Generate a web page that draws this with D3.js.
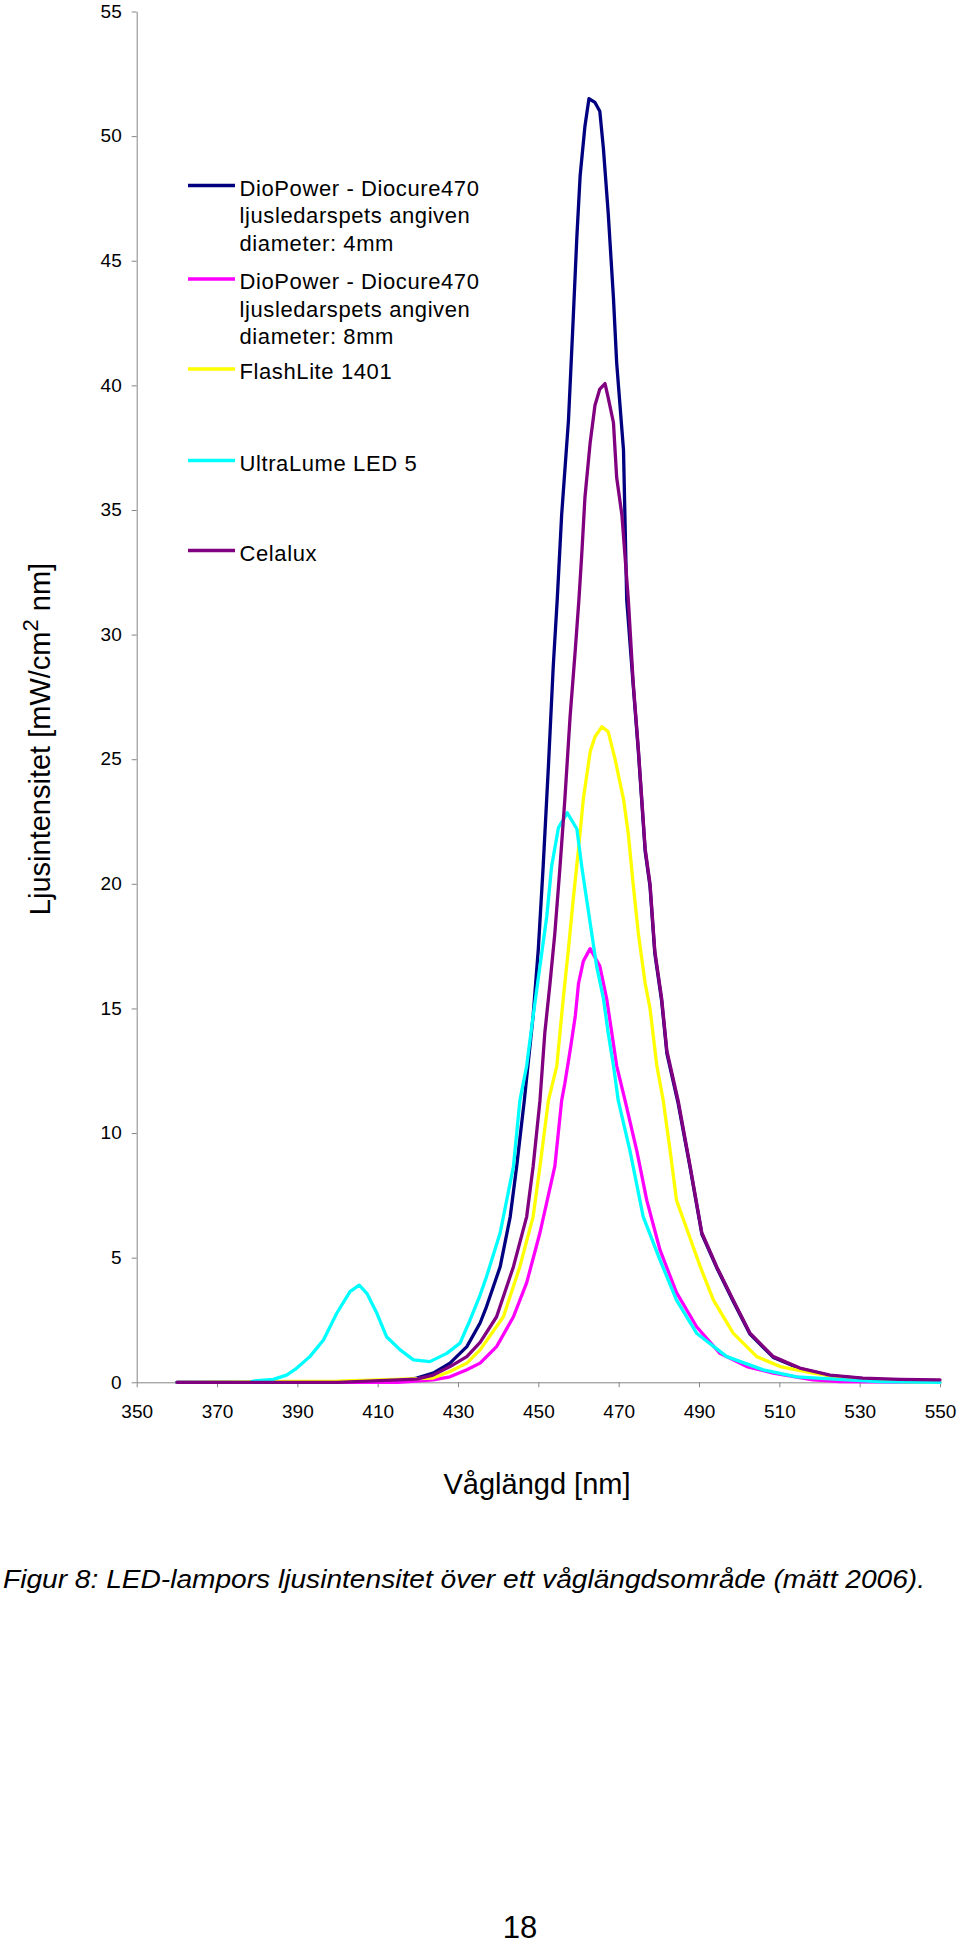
<!DOCTYPE html>
<html>
<head>
<meta charset="utf-8">
<script src="https://cdn.jsdelivr.net/npm/d3@7"></script>
<style>
  html, body { margin: 0; padding: 0; background: #fff; }
  svg { display: block; }
  text { font-family: "Liberation Sans", Arial, sans-serif; fill: #000; }
</style>
</head>
<body>
<svg id="chart" width="960" height="1947"></svg>
<script>
// ---------- data ----------
const wavelengthTicks = [350, 370, 390, 410, 430, 450, 470, 490, 510, 530, 550];
const intensityTicks = [0, 5, 10, 15, 20, 25, 30, 35, 40, 45, 50, 55];

const seriesNames = [
  ["DioPower - Diocure470", "ljusledarspets angiven", "diameter: 4mm"],
  ["DioPower - Diocure470", "ljusledarspets angiven", "diameter: 8mm"],
  ["FlashLite 1401"],
  ["UltraLume LED 5"],
  ["Celalux"]
];
const seriesColors = ["#000080", "#FF00FF", "#FFFF00", "#00FFFF", "#800080"];

// [wavelength nm, intensity mW/cm2 nm]
const dioPower4mm = [[360,0],[400,0],[415.6,0.05],[419.7,0.17],[423.8,0.37],[428,0.77],[432.2,1.43],[435.5,2.38],[437.1,3.04],[440.5,4.64],[443,6.65],[444.6,8.66],[446.5,11.3],[448.7,14.7],[450,17.4],[451.2,20.7],[452.5,24.7],[453.7,28.7],[454.7,31.4],[455.8,34.8],[457.5,38.6],[458.6,42.4],[459.6,46],[460.4,48.4],[461.6,50.4],[462.6,51.5],[464.1,51.35],[465.3,51],[466.2,49.5],[467.4,46.9],[468.7,43.5],[469.5,40.9],[471.2,37.4],[472,31.4],[473.6,28],[474.9,25.3],[476.6,21.3],[477.8,19.9],[479,17.2],[480.7,15.3],[482,13.2],[484.8,11.2],[487.8,8.6],[490.7,5.95],[494.4,4.6],[498.5,3.25],[502.7,1.93],[508.5,1.0],[515.1,0.55],[522.6,0.27],[530.8,0.15],[536,0.1]];
const dioPower8mm = [[360,0],[415,0],[423.8,0.1],[428,0.22],[432.2,0.5],[435.5,0.77],[439.6,1.43],[443.8,2.63],[447.1,4.0],[450.4,6.0],[454.1,8.66],[455.8,11.3],[456.6,12.0],[457.9,13.3],[459.2,14.7],[460,16],[461.2,16.9],[462.9,17.4],[465.3,16.7],[467,15.4],[468.3,14],[469.5,12.7],[471.6,11.3],[474.5,9.3],[477,7.3],[480.3,5.3],[484.4,3.6],[489.4,2.23],[495.2,1.16],[501.9,0.63],[508.5,0.37],[518.4,0.1],[525,0.03],[550,0]];
const flashLite1401 = [[360,0],[400,0.05],[423.8,0.17],[428,0.43],[432.2,0.77],[435.5,1.3],[441.3,2.63],[445.4,4.64],[448.7,6.65],[450.4,8.66],[452.5,11.3],[454.6,12.7],[456.2,15.4],[457.5,17.4],[458.7,19.4],[460,21.4],[461.2,23.4],[462.9,25.3],[464.1,25.9],[465.8,26.3],[467.4,26.1],[469.1,25],[471.2,23.4],[472.4,22],[473.6,20],[474.9,18],[476.6,16],[477.8,15],[479.5,12.7],[481.1,11.3],[482.8,9.3],[484.4,7.3],[487.3,6],[490.3,4.64],[493.6,3.3],[498.5,1.97],[504.4,1.03],[510.2,0.63],[518.4,0.37],[526.8,0.17],[535,0.05],[550,0]];
const ultraLumeLed5 = [[360,0],[378.2,0],[379,0.05],[384,0.12],[387.3,0.29],[389.8,0.56],[393.1,1.03],[396.5,1.7],[399.8,2.77],[403.1,3.64],[405.4,3.9],[407.3,3.57],[409.8,2.77],[412.2,1.83],[415.6,1.3],[418.9,0.9],[423,0.83],[427.2,1.16],[430.5,1.57],[433,2.5],[435.5,3.5],[437.1,4.24],[440.5,6.0],[443.8,8.66],[445.4,11.3],[447.1,12.7],[448.7,14.7],[450.4,16.7],[452.1,18.7],[453.3,20.7],[455,22.25],[457.2,22.85],[459.6,22.2],[460.8,20.7],[462,19.4],[463.3,18],[464.5,16.7],[466.2,15.4],[467.4,14],[468.7,12.7],[469.9,11.3],[472.8,9.3],[476.1,6.65],[480.3,4.9],[484.4,3.3],[489.4,1.97],[496.9,1.03],[506,0.5],[514.3,0.22],[526.8,0.1],[535,0.03],[550,0]];
const celalux = [[360,0],[400,0],[419.7,0.13],[423.8,0.29],[428,0.63],[432.2,1.03],[435.5,1.6],[439.6,2.63],[443.8,4.64],[447.1,6.65],[448.7,8.66],[450.4,11.3],[451.6,14.0],[452.9,16],[454.1,18],[455.4,20.7],[456.6,23.4],[457.9,26.7],[459.2,29.4],[460.1,31.4],[460.8,33.2],[461.6,35.5],[462.9,37.7],[464.1,39.2],[465.3,39.85],[466.6,40.07],[467.4,39.5],[468.7,38.5],[469.5,36.3],[470.8,34.8],[472.4,31.4],[473.6,28.1],[474.9,25.4],[476.6,21.4],[477.8,20],[479,17.3],[480.7,15.4],[482,13.3],[484.8,11.3],[487.8,8.66],[490.7,6.0],[494.4,4.64],[498.5,3.3],[502.7,1.97],[508.5,1.03],[515.1,0.57],[522.6,0.29],[530.8,0.17],[540,0.12],[550,0.1]];

const seriesData = [dioPower4mm, dioPower8mm, flashLite1401, ultraLumeLed5, celalux];

// ---------- layout ----------
const svg = d3.select("#chart");
svg.append("rect").attr("width", 960).attr("height", 1947).attr("fill", "#fff");

const x = d3.scaleLinear().domain([350, 550]).range([136.7, 940]);
const y = d3.scaleLinear().domain([0, 55]).range([1382.3, 11.5]);
const axisColor = "#868686";

// y axis
const yAxis = svg.append("g").attr("transform", "translate(136.7,0)")
  .call(d3.axisLeft(y).tickValues(intensityTicks).tickSize(5).tickSizeOuter(0).tickPadding(10));
yAxis.select(".domain").attr("stroke", axisColor);
yAxis.selectAll(".tick line").attr("stroke", axisColor);
yAxis.selectAll(".tick text").attr("font-size", 19).attr("font-family", "Liberation Sans, Arial, sans-serif").attr("fill", "#000").attr("dy", "0.3em");

// x axis
const xAxis = svg.append("g").attr("transform", "translate(0,1382.3)")
  .call(d3.axisBottom(x).tickValues(wavelengthTicks).tickSize(5).tickSizeOuter(0).tickFormat(d3.format("d")));
xAxis.select(".domain").attr("stroke", axisColor);
xAxis.selectAll(".tick line").attr("stroke", axisColor);
xAxis.selectAll(".tick text").attr("font-size", 19).attr("font-family", "Liberation Sans, Arial, sans-serif").attr("fill", "#000")
  .attr("y", 36).attr("dy", 0);

// lines
const line = d3.line().x(d => x(d[0])).y(d => y(d[1])).curve(d3.curveLinear);
svg.append("g").selectAll("path").data(seriesData).join("path")
  .attr("d", line)
  .attr("fill", "none")
  .attr("stroke", (d, i) => seriesColors[i])
  .attr("stroke-width", 3.3)
  .attr("stroke-linejoin", "round")
  .attr("stroke-linecap", "round");

// legend
const legendLineY = [185.5, 279, 369, 460.5, 550.5];
const legend = svg.append("g");
seriesNames.forEach((names, i) => {
  const g = legend.append("g").attr("transform", `translate(0,${legendLineY[i]})`);
  g.append("line").attr("x1", 188).attr("x2", 235).attr("y1", 0).attr("y2", 0)
    .attr("stroke", seriesColors[i]).attr("stroke-width", 3.3);
  names.forEach((t, j) => {
    g.append("text").attr("x", 239.5).attr("y", 10 + j * 27.5)
      .attr("font-size", 22).attr("letter-spacing", 0.6).text(t);
  });
});

// axis titles
const yt = svg.append("text")
  .attr("transform", "translate(50,739) rotate(-90)")
  .attr("text-anchor", "middle").attr("font-size", 29);
yt.append("tspan").text("Ljusintensitet [mW/cm");
yt.append("tspan").attr("baseline-shift", "super").attr("font-size", 22).text("2");
yt.append("tspan").text("  nm]");

svg.append("text").attr("x", 537).attr("y", 1493.5).attr("text-anchor", "middle")
  .attr("font-size", 29).text("Våglängd [nm]");

// caption
svg.append("text").attr("x", 3).attr("y", 1588).attr("font-size", 26).attr("font-style", "italic")
  .attr("textLength", 922).attr("lengthAdjust", "spacingAndGlyphs")
  .text("Figur 8: LED-lampors ljusintensitet över ett våglängdsområde (mätt 2006).");

// page number
svg.append("text").attr("x", 520).attr("y", 1938).attr("text-anchor", "middle")
  .attr("font-family", "Liberation Serif, Times New Roman, serif").attr("font-size", 31).text("18");
</script>
</body>
</html>
